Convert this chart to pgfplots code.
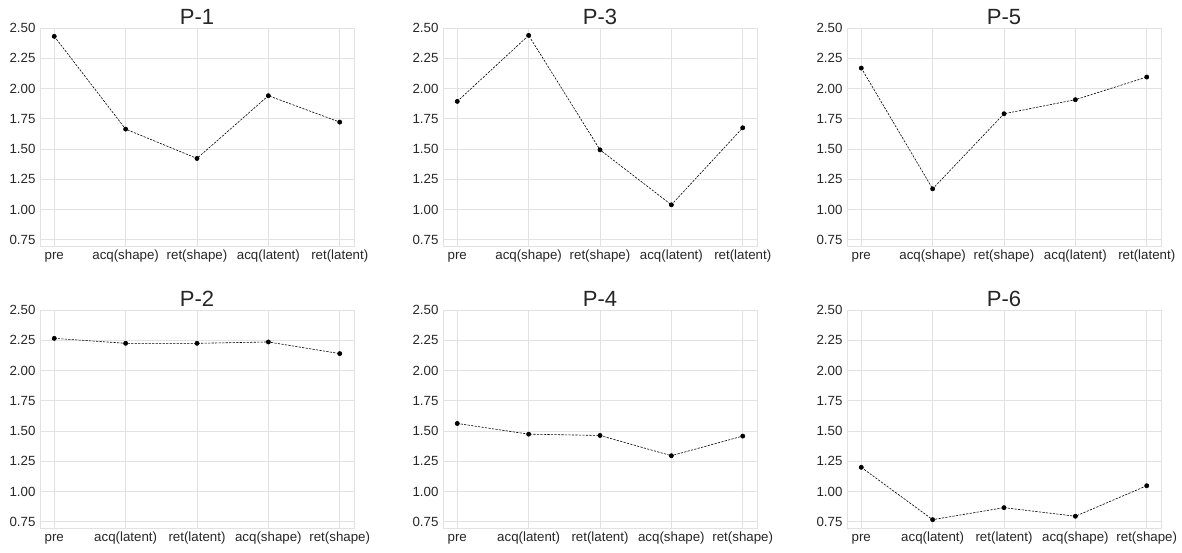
\documentclass[border=0pt]{standalone}
\usepackage{pgfplots}
\pgfplotsset{compat=1.18}
\usepackage{fontspec}
\setmainfont{Liberation Sans}

\definecolor{gridc}{HTML}{E2E2E2}
\definecolor{txtc}{HTML}{262626}

\pgfplotsset{
  panel/.style={
    scale only axis,
    width=314pt, height=218pt,
    anchor=south west,
    xmin=-0.2, xmax=4.2,
    ymin=0.7, ymax=2.5,
    xtick={0,1,2,3,4},
    ytick={0.75,1.00,1.25,1.50,1.75,2.00,2.25,2.50},
    yticklabel style={/pgf/number format/fixed,/pgf/number format/fixed zerofill,/pgf/number format/precision=2},
    /pgf/number format/assume math mode=true,
    grid=major,
    major grid style={gridc, line width=0.9pt},
    axis line style={gridc, line width=0.9pt},
    tick style={draw=none},
    tick label style={font=\fontsize{13.3}{15}\selectfont, text=txtc},
    xticklabel style={anchor=north, text height=9.6pt, text depth=2.8pt, inner sep=3.5pt},
    yticklabel style={xshift=-1pt},
    title style={font=\fontsize{22}{25}\selectfont, text=txtc, yshift=-6pt},
  },
  series/.style={black, line width=0.6pt, dash pattern=on 2.2pt off 1.3pt,
    mark=*, mark size=2.1pt, mark options={solid, fill=black}},
}

\begin{document}
\begin{tikzpicture}[x=1pt,y=1pt]
\useasboundingbox (0,0) rectangle (1182,552);

% top row: pre, acq(shape), ret(shape), acq(latent), ret(latent)
\begin{axis}[panel, at={(40pt,306pt)}, title={P-1},
  xticklabels={pre,acq(shape),ret(shape),acq(latent),ret(latent)}]
\addplot[series] coordinates {(0,2.431) (1,1.665) (2,1.423) (3,1.941) (4,1.723)};
\end{axis}

\begin{axis}[panel, at={(443pt,306pt)}, title={P-3},
  xticklabels={pre,acq(shape),ret(shape),acq(latent),ret(latent)}]
\addplot[series] coordinates {(0,1.894) (1,2.439) (2,1.494) (3,1.040) (4,1.676)};
\end{axis}

\begin{axis}[panel, at={(847pt,306pt)}, title={P-5},
  xticklabels={pre,acq(shape),ret(shape),acq(latent),ret(latent)}]
\addplot[series] coordinates {(0,2.169) (1,1.172) (2,1.792) (3,1.908) (4,2.095)};
\end{axis}

% bottom row: pre, acq(latent), ret(latent), acq(shape), ret(shape)
\begin{axis}[panel, at={(40pt,24pt)}, title={P-2},
  xticklabels={pre,acq(latent),ret(latent),acq(shape),ret(shape)}]
\addplot[series] coordinates {(0,2.266) (1,2.225) (2,2.225) (3,2.236) (4,2.140)};
\end{axis}

\begin{axis}[panel, at={(443pt,24pt)}, title={P-4},
  xticklabels={pre,acq(latent),ret(latent),acq(shape),ret(shape)}]
\addplot[series] coordinates {(0,1.563) (1,1.475) (2,1.464) (3,1.297) (4,1.459)};
\end{axis}

\begin{axis}[panel, at={(847pt,24pt)}, title={P-6},
  xticklabels={pre,acq(latent),ret(latent),acq(shape),ret(shape)}]
\addplot[series] coordinates {(0,1.201) (1,0.769) (2,0.868) (3,0.797) (4,1.049)};
\end{axis}
\end{tikzpicture}
\end{document}
